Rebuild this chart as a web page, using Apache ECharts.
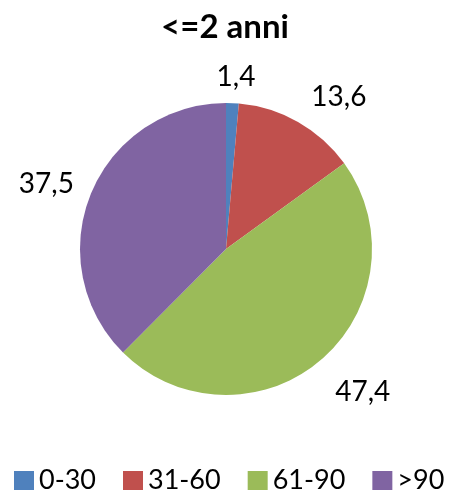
<!DOCTYPE html>
<html>
<head>
<meta charset="utf-8">
<script src="https://cdn.jsdelivr.net/npm/echarts@6/dist/echarts.min.js"></script>
<style>
  html, body { margin: 0; padding: 0; background: #ffffff; }
  #chart { width: 450px; height: 493px; }
</style>
</head>
<body>
<div id="chart"></div>
<script>
// Age classes (days) and their share, in percent
const categories = ['0-30', '31-60', '61-90', '>90'];
const shares = [1.4, 13.6, 47.4, 37.5];
const labels = ['1,4', '13,6', '47,4', '37,5'];
const colors = ['#4F81BD', '#C0504D', '#9BBB59', '#8064A2'];

// Per-slice label placement (guide line hidden, only used to place text)
const labelLine1 = [26, 29, 42, 25];
const labelLine2 = [-22, -6, -18, -11];

const chart = echarts.init(document.getElementById('chart'), null, { renderer: 'canvas' });

chart.setOption({
  animation: false,
  backgroundColor: '#ffffff',
  title: {
    text: '<=2 anni',
    left: 'center',
    top: 6,
    textStyle: {
      fontFamily: 'Lato',
      fontWeight: 'bold',
      fontSize: 33,
      color: '#000000'
    }
  },
  legend: {
    data: categories,
    left: 14,
    top: 467,
    width: 436,
    padding: 0,
    icon: 'rect',
    itemWidth: 20,
    itemHeight: 19,
    itemGap: 27,
    textStyle: {
      fontFamily: 'Lato',
      fontSize: 27,
      color: '#000000'
    }
  },
  series: [{
    type: 'pie',
    center: [226, 249],
    radius: 146,
    startAngle: 90,
    clockwise: true,
    avoidLabelOverlap: false,
    silent: true,
    label: {
      show: true,
      position: 'outside',
      fontFamily: 'Lato',
      fontSize: 28,
      color: '#000000',
      distanceToLabelLine: 5
    },
    labelLine: { show: false },
    data: categories.map((name, i) => ({
      name: name,
      value: shares[i],
      itemStyle: { color: colors[i] },
      label: { formatter: labels[i] },
      labelLine: { show: false, length: labelLine1[i], length2: labelLine2[i] }
    }))
  }]
});
</script>
</body>
</html>
